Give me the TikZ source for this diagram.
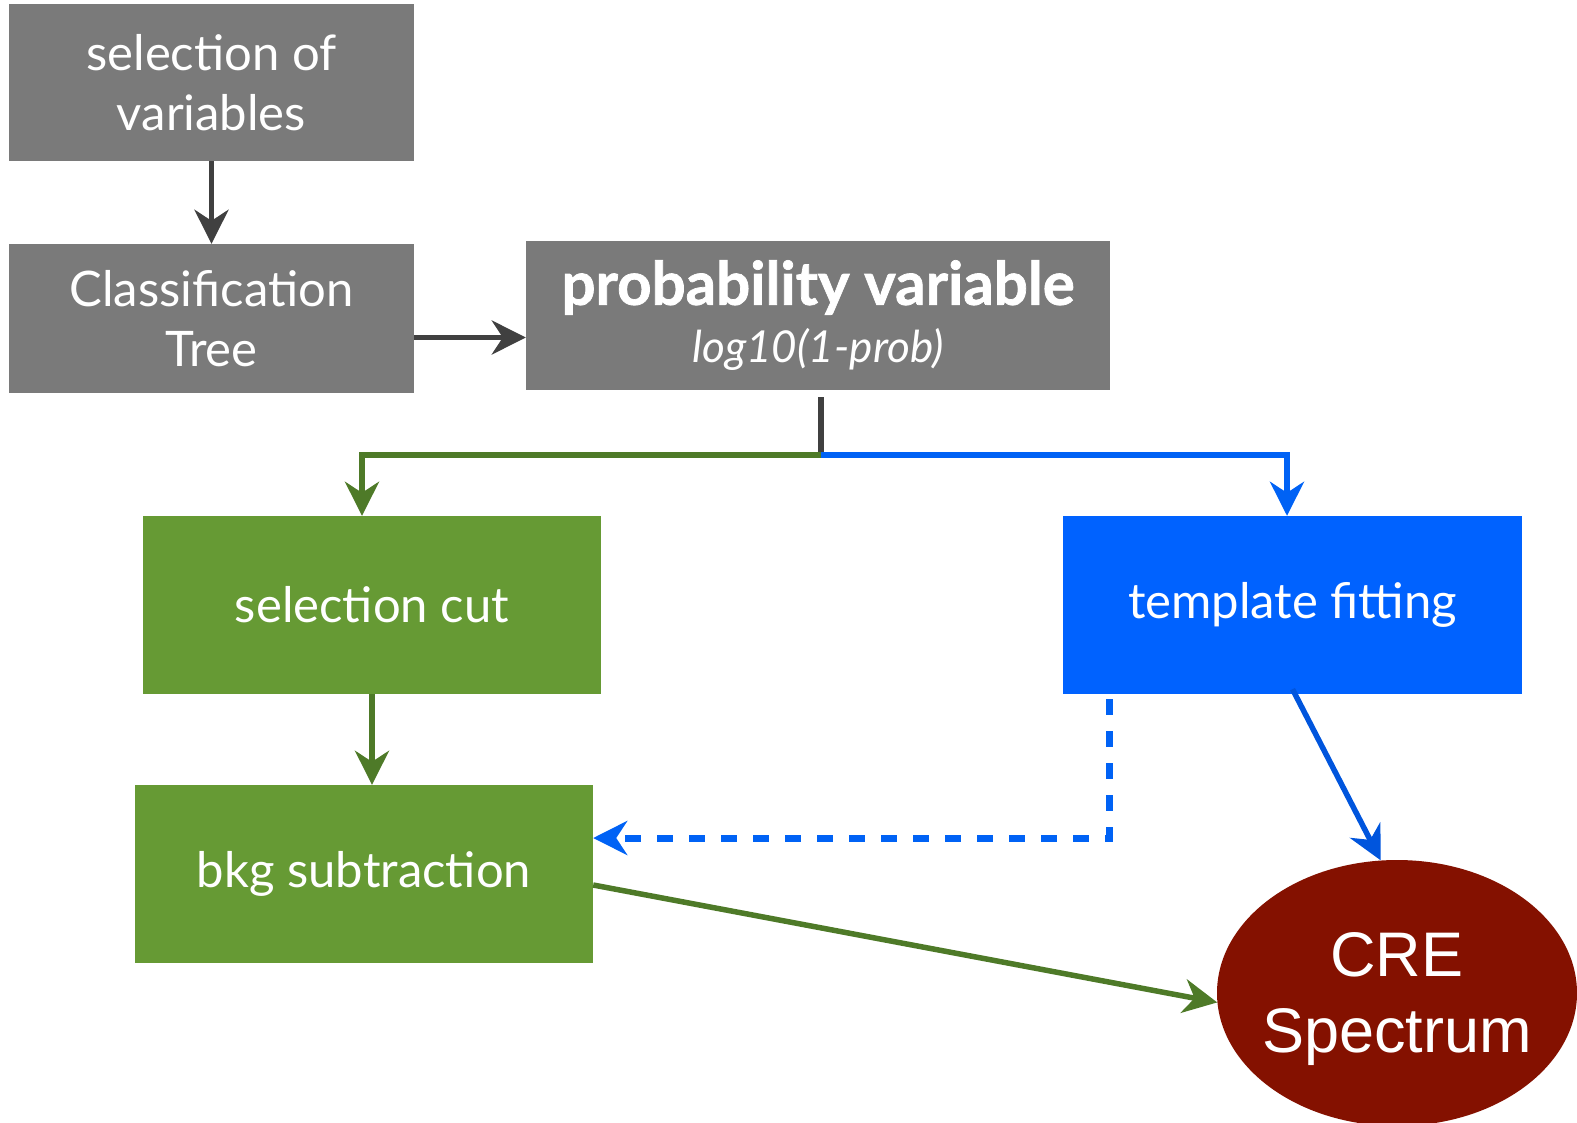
\documentclass[tikz,border=0pt]{standalone}
\usepackage{fontspec}
\setmainfont{Lato}
\newfontfamily\arialf{Liberation Sans}
\usetikzlibrary{arrows.meta,shapes.geometric}
\definecolor{boxgray}{HTML}{7A7A7A}
\definecolor{linegray}{HTML}{404040}
\definecolor{boxgreen}{HTML}{669A34}
\definecolor{linegreen}{HTML}{4E7A28}
\definecolor{boxblue}{HTML}{0062FF}
\definecolor{lineblue}{HTML}{0062F5}
\definecolor{darkblue}{HTML}{0055DD}
\definecolor{crered}{HTML}{841100}
\tikzset{
  box/.style={rectangle, draw=none, text=white, align=center, inner sep=0pt,
    font=\fontsize{49}{60}\selectfont},
  tip/.style={-{Stealth[length=34pt,width=34pt,inset=11pt]}},
  darr/.style={tip, draw=linegray, line width=5.5pt},
  garr/.style={tip, draw=linegreen, line width=5.5pt},
  barr/.style={tip, draw=lineblue, line width=5.5pt},
}
\begin{document}
\begin{tikzpicture}[x=1pt,y=-1pt]
\useasboundingbox (0,0) rectangle (1577,1122);
\node[box, fill=boxgray, minimum width=405pt, minimum height=157pt] (sv) at (211.5,82.5) {selection of\\variables};
\node[box, fill=boxgray, minimum width=405pt, minimum height=149pt] (ct) at (211.5,318.5) {Classification\\Tree};
\node[box, fill=boxgray, minimum width=584pt, minimum height=149pt, font=\fontsize{44}{58}\selectfont] (pv) at (818,315.5) {{\bfseries\fontsize{60}{58}\selectfont\addfontfeatures{FakeBold=1.2} probability variable}\\\itshape log10(1-prob)};
\node[box, fill=boxgreen, minimum width=458pt, minimum height=178pt] (sc) at (372,605) {selection cut};
\node[box, fill=boxblue, minimum width=459pt, minimum height=178pt] (tf) at (1292.5,605) {template fitting};
\node[box, fill=boxgreen, minimum width=458pt, minimum height=178pt] (bs) at (364,874) {bkg subtraction};
\node[ellipse, fill=crered, draw=none, inner sep=0pt, minimum width=360pt, minimum height=266pt] (cre) at (1397,993) {};
\node[text=white, align=center, inner sep=0pt, font=\arialf\fontsize{63}{76}\selectfont] (crelabel) at ([yshift=-6pt]cre.center) {CRE\\Spectrum};
\coordinate (split) at (821,455);
\draw[darr] (sv.south) -- (ct.north);
\draw[darr] ([yshift=-19pt]ct.east) -- ([yshift=-19pt]ct.east -| pv.west);
\draw[draw=linegray, line width=5.5pt] ([xshift=3pt,yshift=-7pt]pv.south) -- (split);
\draw[garr] (split) -| ([xshift=-10pt]sc.north);
\draw[barr] (split) -| ([xshift=-5.5pt]tf.north);
\draw[garr] (sc.south) -- (sc.south |- bs.north);
\draw[barr, dash pattern=on 16pt off 16pt, line width=7pt] ([xshift=47pt,yshift=-5pt]tf.south west) |- ([yshift=36pt]bs.east);
\draw[tip, draw=darkblue, line width=5.5pt] ([yshift=5pt]tf.south) -- (cre.97);
\draw[garr] ([yshift=-11pt]bs.east) -- (cre.183);
\end{tikzpicture}
\end{document}
